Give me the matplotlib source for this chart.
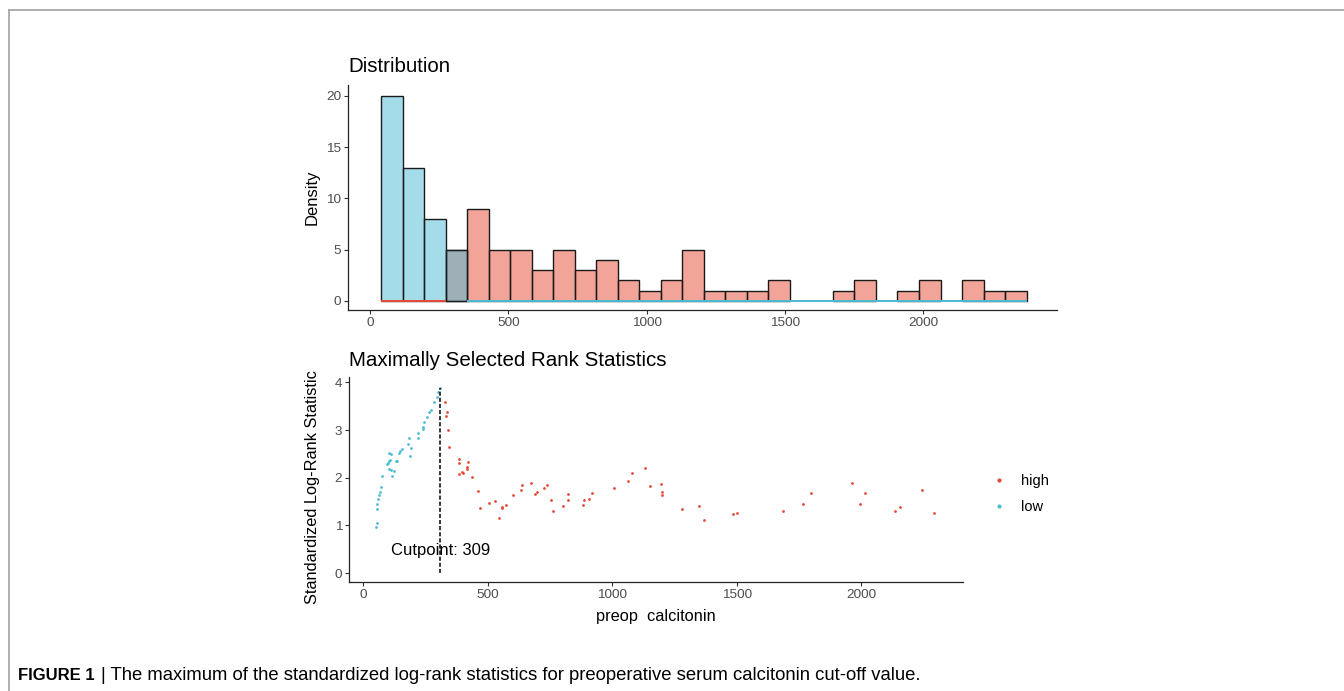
import numpy as np
import matplotlib
matplotlib.use("Agg")
import matplotlib.pyplot as plt
from matplotlib.lines import Line2D
from matplotlib.colors import to_rgba

plt.rcParams['font.family'] = ['Liberation Sans', 'DejaVu Sans']

# ---- histogram data (30 bins between min and max calcitonin) ----
x_min, x_max = 40, 2374
low_counts = [20, 13, 8, 5] + [0] * 26
high_counts = [0, 0, 0, 5, 9, 5, 5, 3, 5, 3, 4, 2, 1, 2, 5,
               1, 1, 1, 2, 0, 0, 1, 2, 0, 1, 2, 0, 2, 1, 1]

# ---- maximally selected rank statistics ----
cutpoint = 309
low_x = [50, 55, 54, 56, 60, 64, 67, 70, 74, 94, 98, 102, 104, 108, 110, 104,
         111, 116, 124, 130, 136, 142, 147, 155, 178, 183, 189, 191, 220, 222,
         240, 240, 245, 257, 265, 272, 285, 295, 300, 309]
low_y = [0.97, 1.05, 1.34, 1.46, 1.55, 1.64, 1.71, 1.80, 2.04, 2.28, 2.31, 2.53,
         2.35, 2.38, 2.49, 2.19, 2.17, 2.04, 2.14, 2.35, 2.35, 2.51, 2.56, 2.61,
         2.71, 2.84, 2.45, 2.63, 2.84, 2.93, 3.03, 3.07, 3.17, 3.27, 3.38, 3.42,
         3.59, 3.70, 3.80, 3.89]
high_x = [328, 337, 332, 341, 345, 383, 383, 383, 396, 399, 415, 415, 419, 438,
          462, 470, 504, 530, 545, 558, 559, 573, 600, 633, 637, 675, 688, 696,
          724, 739, 753, 762, 803, 822, 822, 882, 886, 905, 920, 1007, 1063, 1080,
          1131, 1150, 1196, 1201, 1201, 1279, 1348, 1367, 1484, 1502, 1686, 1765,
          1797, 1964, 1996, 2014, 2134, 2157, 2245, 2291]
high_y = [3.59, 3.37, 3.30, 3.01, 2.65, 2.40, 2.31, 2.08, 2.12, 2.10, 2.22, 2.18,
          2.33, 2.01, 1.72, 1.36, 1.47, 1.51, 1.15, 1.37, 1.39, 1.43, 1.63, 1.75,
          1.84, 1.89, 1.65, 1.70, 1.78, 1.84, 1.53, 1.31, 1.41, 1.53, 1.65, 1.43,
          1.53, 1.55, 1.68, 1.78, 1.94, 2.11, 2.21, 1.82, 1.87, 1.70, 1.63, 1.34,
          1.41, 1.12, 1.24, 1.27, 1.31, 1.46, 1.68, 1.89, 1.46, 1.68, 1.31, 1.39,
          1.75, 1.26]

red = '#E64B35'
blue = '#4DBBD5'
tick_grey = '#4D4D4D'

fig = plt.figure(figsize=(13.44, 6.91), dpi=100)

# open frame around the figure (top and left)
fig.add_artist(Line2D([9 / 1344, 1], [1 - 10 / 691] * 2, transform=fig.transFigure,
                      color='#A8A8A8', lw=1.3))
fig.add_artist(Line2D([9 / 1344] * 2, [0, 1 - 10 / 691], transform=fig.transFigure,
                      color='#A8A8A8', lw=1.3))


def style_axes(ax):
    for s in ['top', 'right']:
        ax.spines[s].set_visible(False)
    for s in ['left', 'bottom']:
        ax.spines[s].set_color('#222222')
        ax.spines[s].set_linewidth(0.9)
    ax.tick_params(length=3, width=0.8, color='#333333', labelcolor=tick_grey,
                   labelsize=9.7, pad=2)


# ---- top: distribution ----
ax1 = fig.add_axes([348 / 1344, 1 - 310 / 691, 709 / 1344, 225 / 691])
edges = np.linspace(x_min, x_max, len(low_counts) + 1)
width = edges[1] - edges[0]
for counts, col in [(high_counts, red), (low_counts, blue)]:
    for i, c in enumerate(counts):
        if c > 0:
            ax1.bar(edges[i], c, width=width, align='edge', color=to_rgba(col, 0.5),
                    edgecolor='#1a1a1a', linewidth=1.0)
        else:
            ax1.hlines(0, edges[i], edges[i + 1], color=col, lw=1.4)
ax1.set_xlim(-79.5, 2484)
ax1.set_ylim(-0.88, 21.07)
ax1.set_xticks([0, 500, 1000, 1500, 2000])
ax1.set_yticks([0, 5, 10, 15, 20])
style_axes(ax1)
ax1.set_ylabel('Density', fontsize=12)
ax1.yaxis.set_label_coords(-0.04, 0.5)
ax1.set_title('Distribution', loc='left', fontsize=14.8, pad=9)

# ---- bottom: maximally selected rank statistics ----
ax2 = fig.add_axes([349 / 1344, 1 - 581.7 / 691, 613.7 / 1344, 205 / 691])
ax2.scatter(high_x, high_y, s=4, color=red, linewidths=0, label='high')
ax2.scatter(low_x, low_y, s=4, color=blue, linewidths=0, label='low')
ax2.vlines(cutpoint, 0, max(low_y), colors='black', linestyles=(0, (2.7, 1.3)), lw=1.1)
ax2.text(cutpoint, 0.48, 'Cutpoint: %d' % cutpoint, ha='center', va='center',
         fontsize=12, color='black')
ax2.set_xlim(-57, 2407)
ax2.set_ylim(-0.18, 4.12)
ax2.set_xticks([0, 500, 1000, 1500, 2000])
ax2.set_yticks([0, 1, 2, 3, 4])
style_axes(ax2)
ax2.set_ylabel('Standardized Log-Rank Statistic', fontsize=11.8)
ax2.yaxis.set_label_coords(-0.047, 0.46)
ax2.set_xlabel('preop  calcitonin', fontsize=11.8)
ax2.xaxis.set_label_coords(0.5, -0.135)
ax2.set_title('Maximally Selected Rank Statistics', loc='left', fontsize=14.8, pad=8)

handles = [Line2D([], [], marker='o', ls='', ms=2, color=red),
           Line2D([], [], marker='o', ls='', ms=2, color=blue)]
fig.legend(handles, ['high', 'low'], loc='center left',
           bbox_to_anchor=(977 / 1344, 1 - 494 / 691), frameon=False,
           fontsize=10.5, handlelength=1.2, handletextpad=0.9, labelspacing=0.8)

# ---- caption ----
t1 = fig.text(18 / 1344, 1 - 676 / 691, 'FIGURE 1', fontsize=12, fontweight='bold',
              va='center', ha='left')
fig.canvas.draw()
bb = t1.get_window_extent(fig.canvas.get_renderer())
fig.text((bb.x1 + 6) / 1344, 1 - 676 / 691,
         '| The maximum of the standardized log-rank statistics for preoperative serum calcitonin cut-off value.',
         fontsize=13.3, va='center', ha='left')

fig.savefig('out.png', dpi=100)
